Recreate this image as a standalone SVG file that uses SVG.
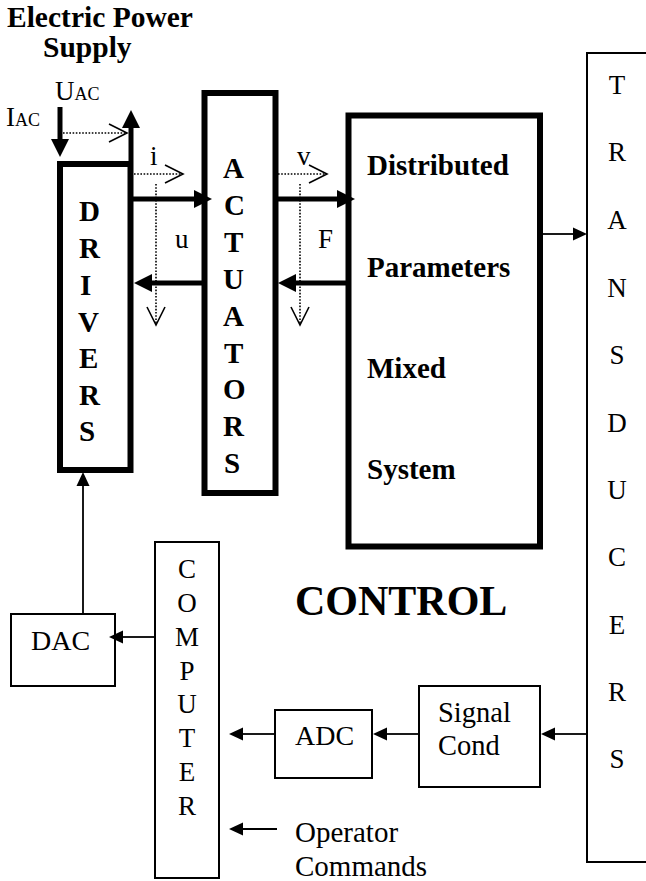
<svg xmlns="http://www.w3.org/2000/svg" width="646" height="881" viewBox="0 0 646 881">
<style>
text{font-family:"Liberation Serif","Times New Roman",serif;fill:#000}
.b{font-weight:bold}
.thick{fill:none;stroke:#000;stroke-width:6}
.thin{fill:none;stroke:#000;stroke-width:2}
.fat{stroke:#000;stroke-width:5;fill:none}
.ln{stroke:#000;stroke-width:1.8;fill:none}
.dot{stroke:#000;stroke-width:1.6;stroke-dasharray:1.6 1.6;fill:none}
.r26{font-size:27px}
.bl{font-size:29px;font-weight:bold}
</style>
<defs>
<marker id="ahk" markerUnits="userSpaceOnUse" markerWidth="20" markerHeight="20" refX="0" refY="9" orient="auto" overflow="visible"><path d="M0,0 L18,9 L0,18 z" fill="#000"/></marker>
<marker id="ahn" markerUnits="userSpaceOnUse" markerWidth="16" markerHeight="14" refX="0" refY="6.5" orient="auto" overflow="visible"><path d="M0,0 L14,6.5 L0,13 z" fill="#000"/></marker>
<marker id="aho" markerUnits="userSpaceOnUse" markerWidth="20" markerHeight="20" refX="18" refY="9" orient="auto" overflow="visible"><path d="M0,0 L18,9 L0,18" fill="none" stroke="#000" stroke-width="1.6" stroke-dasharray="none"/></marker>
</defs>

<g id="title">
<text class="b" x="7" y="27" font-size="29.5">Electric Power</text>
<text class="b" x="43" y="57" font-size="29.5">Supply</text>
<text x="55" y="100" font-size="27">U<tspan font-size="18">AC</tspan></text>
<text x="6" y="126" font-size="27">I<tspan font-size="18">AC</tspan></text>
</g>

<g id="drivers">
<rect class="thick" x="60" y="164" width="70.5" height="306"/>
<text class="bl" x="79" y="221">D</text>
<text class="bl" x="79" y="258">R</text>
<text class="bl" x="80" y="295">I</text>
<text class="bl" x="78" y="332">V</text>
<text class="bl" x="79" y="368">E</text>
<text class="bl" x="79" y="405">R</text>
<text class="bl" x="79" y="441">S</text>
</g>

<g id="actuators">
<rect class="thick" x="204.5" y="93" width="71" height="400"/>
<text class="bl" x="223" y="178">A</text>
<text class="bl" x="224" y="215">C</text>
<text class="bl" x="224" y="252">T</text>
<text class="bl" x="223" y="289">U</text>
<text class="bl" x="223" y="326">A</text>
<text class="bl" x="224" y="363">T</text>
<text class="bl" x="223" y="399">O</text>
<text class="bl" x="223" y="436">R</text>
<text class="bl" x="224" y="473">S</text>
</g>

<g id="dpms">
<rect class="thick" x="348.5" y="115.5" width="191.5" height="431"/>
<text class="bl" x="367" y="175">Distributed</text>
<text class="bl" x="367" y="277">Parameters</text>
<text class="bl" x="367" y="378">Mixed</text>
<text class="bl" x="367" y="479">System</text>
</g>

<g id="transducers">
<path class="thin" d="M648,53 H587 V862 H648"/>
<g class="r26" text-anchor="middle">
<text x="617" y="94">T</text>
<text x="617" y="161">R</text>
<text x="617" y="229">A</text>
<text x="617" y="297">N</text>
<text x="617" y="364">S</text>
<text x="617" y="432">D</text>
<text x="617" y="499">U</text>
<text x="617" y="566">C</text>
<text x="617" y="634">E</text>
<text x="617" y="701">R</text>
<text x="617" y="768">S</text>
</g>
</g>

<g id="control-label">
<text class="b" x="295" y="615" font-size="42">CONTROL</text>
</g>

<g id="computer">
<rect class="thin" x="155" y="542" width="64" height="336"/>
<g class="r26" text-anchor="middle">
<text x="187" y="578">C</text>
<text x="187" y="612">O</text>
<text x="187" y="646">M</text>
<text x="187" y="680">P</text>
<text x="187" y="713">U</text>
<text x="187" y="747">T</text>
<text x="187" y="781">E</text>
<text x="187" y="815">R</text>
</g>
</g>

<g id="dac">
<rect class="thin" x="11" y="614" width="104" height="72"/>
<text x="31" y="650" font-size="28">DAC</text>
</g>

<g id="adc">
<rect class="thin" x="275" y="710" width="97" height="68"/>
<text x="295" y="745" font-size="28">ADC</text>
</g>

<g id="signal-cond">
<rect class="thin" x="419" y="686" width="121" height="101"/>
<text x="438" y="722" font-size="28.5">Signal</text>
<text x="438" y="755" font-size="28.5">Cond</text>
</g>

<g id="operator">
<text x="295" y="842" font-size="29">Operator</text>
<text x="295" y="876" font-size="29">Commands</text>
</g>

<g id="connectors">
<line class="fat" x1="60" y1="107" x2="60" y2="139" marker-end="url(#ahk)"/>
<line class="fat" x1="131" y1="161" x2="131" y2="128" marker-end="url(#ahk)"/>
<line class="dot" x1="63" y1="133" x2="127" y2="133" marker-end="url(#aho)"/>
<line class="fat" x1="133" y1="199" x2="194" y2="199" marker-end="url(#ahk)"/>
<line class="fat" x1="203" y1="283" x2="152" y2="283" marker-end="url(#ahk)"/>
<line class="dot" x1="134" y1="174" x2="183" y2="174" marker-end="url(#aho)"/>
<line class="dot" x1="156" y1="184" x2="156" y2="325" marker-end="url(#aho)"/>
<text x="150" y="165" font-size="27">i</text>
<text x="175" y="248" font-size="27">u</text>
<line class="fat" x1="277" y1="199" x2="337" y2="199" marker-end="url(#ahk)"/>
<line class="fat" x1="347" y1="283" x2="296" y2="283" marker-end="url(#ahk)"/>
<line class="dot" x1="278" y1="174" x2="327" y2="174" marker-end="url(#aho)"/>
<line class="dot" x1="300" y1="184" x2="300" y2="325" marker-end="url(#aho)"/>
<text x="297" y="165" font-size="27">v</text>
<text x="318" y="248" font-size="27">F</text>
<line class="ln" x1="542" y1="234" x2="573" y2="234" marker-end="url(#ahn)"/>
<line class="ln" x1="587" y1="734" x2="555" y2="734" marker-end="url(#ahn)"/>
<line class="ln" x1="419" y1="734" x2="387" y2="734" marker-end="url(#ahn)"/>
<line class="ln" x1="275" y1="734" x2="243" y2="734" marker-end="url(#ahn)"/>
<line class="ln" x1="277" y1="829" x2="243" y2="829" marker-end="url(#ahn)"/>
<line class="ln" x1="155" y1="637" x2="123" y2="637" marker-end="url(#ahn)"/>
<line class="ln" x1="83" y1="614" x2="83" y2="486" marker-end="url(#ahn)"/>
</g>
</svg>
